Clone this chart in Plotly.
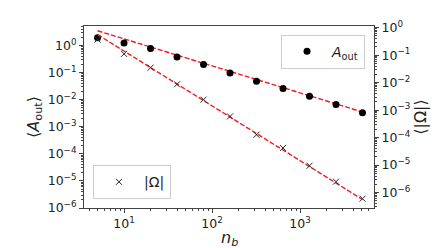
import plotly.graph_objects as go

n_b = [5, 10, 20, 40, 80, 160, 320, 640, 1280, 2560, 5120]
A_out = [1.95, 1.23, 0.77, 0.38, 0.20, 0.097, 0.048, 0.026, 0.0134, 0.0066, 0.0033]
A_err = [0.08, 0.04, 0.02, 0.01, 0.005, 0.002, 0.001, 0.0005, 0.0003, 0.00015, 0.0001]
Omega = [0.37, 0.111, 0.035, 0.0087, 0.0024, 5.9e-4, 1.27e-4, 4.2e-5, 9.5e-6, 2.5e-6, 6.0e-7]

fit_x = [5, 5120]
A_fit = [3.5, 0.0035]
Omega_fit = [0.56, 5.6e-7]

x_tickvals = [10, 100, 1000]
x_ticktext = ["10<sup>1</sup>", "10<sup>2</sup>", "10<sup>3</sup>"]
y_tickvals = [1e0, 1e-1, 1e-2, 1e-3, 1e-4, 1e-5, 1e-6]
y_ticktext = ["10<sup>0</sup>", "10<sup>−1</sup>", "10<sup>−2</sup>", "10<sup>−3</sup>",
              "10<sup>−4</sup>", "10<sup>−5</sup>", "10<sup>−6</sup>"]

fig = go.Figure()

fig.add_trace(go.Scatter(x=fit_x, y=A_fit, mode="lines",
                         line=dict(color="rgb(240,30,30)", width=1.4, dash="5px,2px"),
                         showlegend=False, hoverinfo="skip"))
fig.add_trace(go.Scatter(x=fit_x, y=Omega_fit, mode="lines", yaxis="y2",
                         line=dict(color="rgb(240,30,30)", width=1.4, dash="5px,2px"),
                         showlegend=False, hoverinfo="skip"))
fig.add_trace(go.Scatter(x=n_b, y=A_out, mode="markers", name="<i>A</i><sub>out</sub>",
                         marker=dict(color="black", size=7, symbol="circle"),
                         error_y=dict(type="data", array=A_err, color="rgb(190,190,190)", thickness=1, width=0),
                         legend="legend"))
fig.add_trace(go.Scatter(x=n_b, y=Omega, mode="markers", name="|Ω|", yaxis="y2",
                         marker=dict(color="rgb(40,40,40)", size=6, symbol="x-thin",
                                     line=dict(color="rgb(40,40,40)", width=1)),
                         legend="legend2"))

font = dict(family="DejaVu Sans", color="#222", size=12)
common = dict(type="log", showgrid=False, zeroline=False,
              showline=True, linecolor="#444", linewidth=1, ticks="outside", ticklen=4,
              tickcolor="#444", tickfont=dict(family="DejaVu Sans", size=12.5, color="#222"))
minor = dict(ticks="outside", ticklen=2, tickcolor="#444", dtick="D1")

fig.update_layout(
    width=441, height=248,
    margin=dict(l=76, r=75, t=11, b=48),
    paper_bgcolor="white", plot_bgcolor="white",
    font=font,
    xaxis=dict(range=[0.545, 3.84], mirror=True, minor=minor,
               tickmode="array", tickvals=x_tickvals, ticktext=x_ticktext,
               **common),
    yaxis=dict(range=[-6.0, 0.72], minor=minor,
               tickmode="array", tickvals=y_tickvals, ticktext=y_ticktext,
               title=dict(text="⟨<i>A</i><sub>out</sub>⟩", font=dict(size=16), standoff=4),
               **common),
    yaxis2=dict(range=[-6.56, 0.06], overlaying="y", side="right", minor=minor,
                tickmode="array", tickvals=y_tickvals, ticktext=y_ticktext,
                title=dict(text="⟨|Ω|⟩", font=dict(size=16), standoff=4),
                **common),
    legend=dict(x=0.969, y=0.952, xanchor="right", yanchor="top", itemwidth=40,
                bgcolor="rgba(255,255,255,0.8)", bordercolor="#ccc", borderwidth=1,
                font=dict(size=14, family="DejaVu Sans", color="#222")),
    legend2=dict(x=0.031, y=0.048, xanchor="left", yanchor="bottom", itemwidth=40,
                 bgcolor="rgba(255,255,255,0.8)", bordercolor="#ccc", borderwidth=1,
                 font=dict(size=14, family="DejaVu Sans", color="#222")),
    annotations=[dict(text="<i>n</i><sub><i>b</i></sub>", xref="paper", yref="paper",
                      x=0.5, y=-0.165, xanchor="center", yanchor="middle", showarrow=False,
                      font=dict(size=16, family="DejaVu Sans", color="#222"))],
)

fig.write_html("out.html")
